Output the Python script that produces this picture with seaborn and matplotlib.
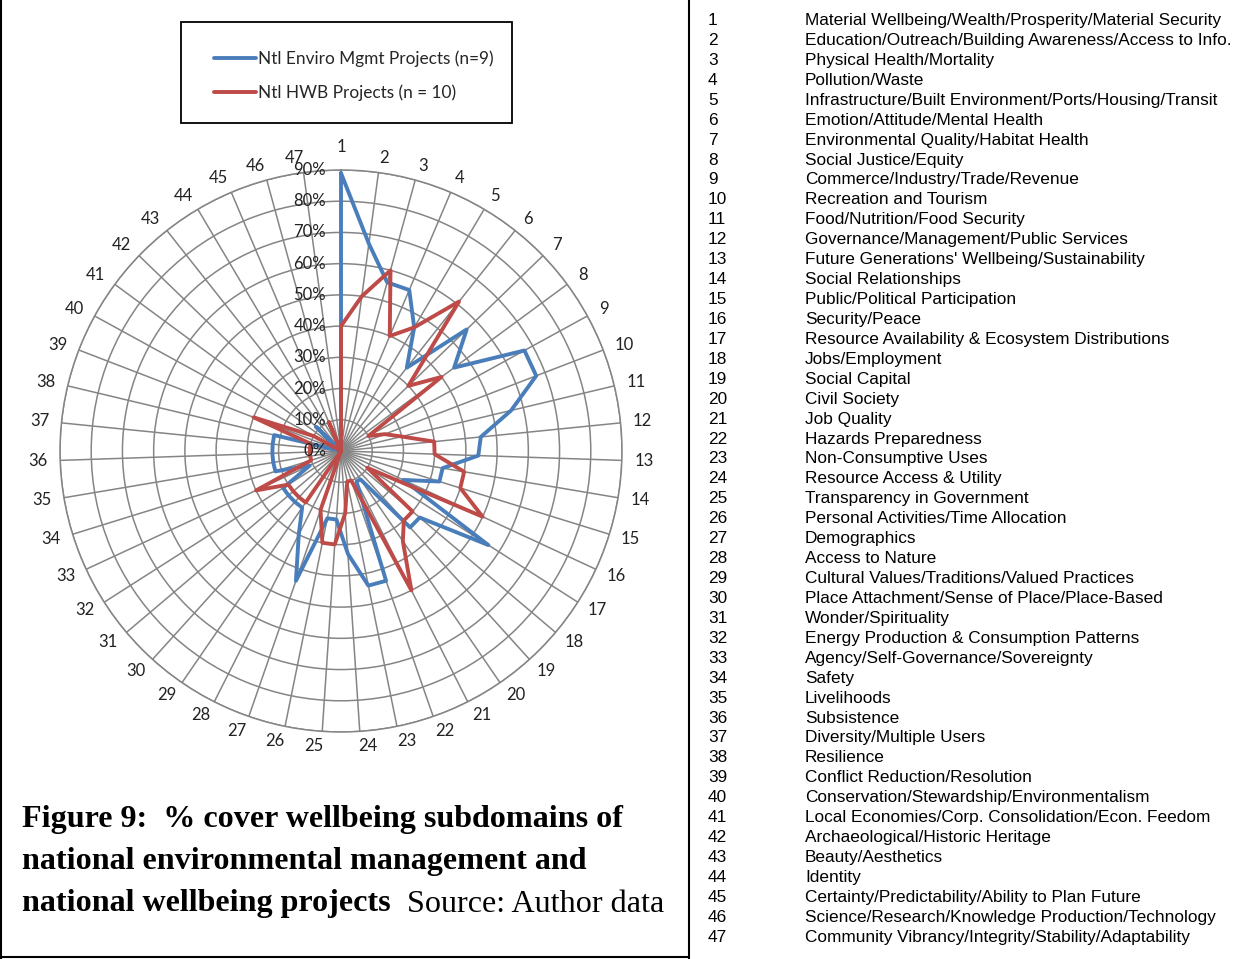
import numpy as np
import pandas as pd
import matplotlib
matplotlib.use("Agg")
import matplotlib.pyplot as plt
import matplotlib.transforms as mtransforms
from matplotlib.patches import Rectangle
from matplotlib.lines import Line2D
import seaborn as sns

# ---- data -------------------------------------------------------------
subdomains = [
    "Material Wellbeing/Wealth/Prosperity/Material Security",
    "Education/Outreach/Building Awareness/Access to Info.",
    "Physical Health/Mortality",
    "Pollution/Waste",
    "Infrastructure/Built Environment/Ports/Housing/Transit",
    "Emotion/Attitude/Mental Health",
    "Environmental Quality/Habitat Health",
    "Social Justice/Equity",
    "Commerce/Industry/Trade/Revenue",
    "Recreation and Tourism",
    "Food/Nutrition/Food Security",
    "Governance/Management/Public Services",
    "Future Generations' Wellbeing/Sustainability",
    "Social Relationships",
    "Public/Political Participation",
    "Security/Peace",
    "Resource Availability & Ecosystem Distributions",
    "Jobs/Employment",
    "Social Capital",
    "Civil Society",
    "Job Quality",
    "Hazards Preparedness",
    "Non-Consumptive Uses",
    "Resource Access & Utility",
    "Transparency in Government",
    "Personal Activities/Time Allocation",
    "Demographics",
    "Access to Nature",
    "Cultural Values/Traditions/Valued Practices",
    "Place Attachment/Sense of Place/Place-Based",
    "Wonder/Spirituality",
    "Energy Production & Consumption Patterns",
    "Agency/Self-Governance/Sovereignty",
    "Safety",
    "Livelihoods",
    "Subsistence",
    "Diversity/Multiple Users",
    "Resilience",
    "Conflict Reduction/Resolution",
    "Conservation/Stewardship/Environmentalism",
    "Local Economies/Corp. Consolidation/Econ. Feedom",
    "Archaeological/Historic Heritage",
    "Beauty/Aesthetics",
    "Identity",
    "Certainty/Predictability/Ability to Plan Future",
    "Science/Research/Knowledge Production/Technology",
    "Community Vibrancy/Integrity/Stability/Adaptability",
]

# % of projects covering each subdomain (1..47)
enviro_mgmt = [89, 67, 56, 56, 46, 34, 56, 45, 67, 67,
               56, 45, 44, 33, 33, 22, 56, 33, 33, 11,
               11, 44, 44, 33, 22, 22, 44, 30, 22, 22,
               22, 22, 11, 22, 22, 22, 22, 22, 0, 0,
               0, 11, 0, 0, 0, 0, 0]
hwb = [40, 50, 60, 40, 46, 61, 30, 40, 10, 15,
       20, 30, 30, 40, 40, 50, 10, 30, 30, 35,
       50, 10, 10, 20, 30, 30, 20, 0, 20, 20,
       20, 20, 30, 10, 10, 10, 10, 10, 30, 10,
       0, 0, 0, 0, 10, 0, 0]

series_names = ["Ntl Enviro Mgmt Projects (n=9)", "Ntl HWB Projects (n = 10)"]
series_colors = ["#4A7EBB", "#BE4B48"]
radial_ticks = [0, 10, 20, 30, 40, 50, 60, 70, 80, 90]

caption_bold = ["Figure 9:  % cover wellbeing subdomains of",
                "national environmental management and",
                "national wellbeing projects"]
caption_source = "Source: Author data"

# ---- style ------------------------------------------------------------
sns.set_theme(style="white")
plt.rcParams['font.family'] = ['Lato', 'DejaVu Sans']

W, H = 1260, 959
fig = plt.figure(figsize=(W / 100, H / 100), dpi=100)
fig.patch.set_facecolor("white")


def fx(x):
    return x / W


def fy(y):
    return 1 - y / H


# ---- radar chart --------------------------------------------------------
cx, cy, R = 341, 451, 281
ax = fig.add_axes([fx(cx - R), fy(cy + R), 2 * R / W, 2 * R / H], projection="polar")
ax.set_facecolor("white")

n = len(subdomains)
theta = np.arange(n) * 2 * np.pi / n

rows = []
for name, vals in zip(series_names, [enviro_mgmt, hwb]):
    ts = list(theta) + [2 * np.pi]
    vs = list(vals) + [vals[0]]
    for t, v in zip(ts, vs):
        rows.append({"series": name, "theta": t, "value": v})
df = pd.DataFrame(rows)

sns.lineplot(data=df, x="theta", y="value", hue="series", hue_order=series_names,
             palette=series_colors, sort=False, estimator=None, linewidth=2.8,
             ax=ax, legend=False, zorder=3)

ax.set_theta_zero_location("N")
ax.set_theta_direction(-1)
ax.set_ylim(0, 90)
ax.set_xticks(theta)
ax.set_xticklabels([])
ax.set_yticks(radial_ticks[1:])
ax.set_yticklabels([])
ax.set_xlabel("")
ax.set_ylabel("")
ax.grid(True, color="#858585", linewidth=1.1)
ax.spines["polar"].set_color("#858585")
ax.spines["polar"].set_linewidth(1.1)
ax.set_axisbelow(True)

# spoke numbers around the rim: anchored on a ring, nudged sideways away
# from the vertical axis by part of the label width
lab_r = 296
for i, t in enumerate(theta):
    label = str(i + 1)
    s = np.sin(t)
    lx = cx + lab_r * s
    ly = cy - lab_r * np.cos(t)
    va = "center"
    if abs(s) > 1e-6:
        lx += np.sign(s) * 3.5 * len(label)
    else:
        va = "bottom"
    fig.text(fx(lx), fy(ly), label, ha="center", va=va, fontsize=12,
             color="#222222")

# percent labels along the first spoke
pct_tr = mtransforms.offset_copy(ax.transData, fig=fig, x=-15, y=0, units="dots")
for v in radial_ticks:
    ax.text(0, v, f"{v}%", transform=pct_tr, ha="right", va="center",
            fontsize=12, color="#222222", clip_on=False)

# ---- legend -------------------------------------------------------------
fig.add_artist(Rectangle((fx(181), fy(123)), 331 / W, 101 / H, transform=fig.transFigure,
                         fill=False, edgecolor="black", linewidth=1.3))
handles = [Line2D([], [], color=c, linewidth=2.8) for c in series_colors]
fig.legend(handles, series_names, loc="center", bbox_to_anchor=(fx(354), fy(75.5)),
           frameon=False, fontsize=12.4, handlelength=2.45, handletextpad=0.1,
           labelspacing=1.0)

# ---- caption ------------------------------------------------------------
cap_y = [820, 862, 904]
cap_font = dict(family=["Liberation Serif", "DejaVu Serif"], fontsize=23.1, color="black")
last = None
for txt, y in zip(caption_bold, cap_y):
    last = fig.text(fx(22), fy(y), txt, fontweight="bold", va="center", **cap_font)
fig.canvas.draw()
bb = last.get_window_extent(renderer=fig.canvas.get_renderer())
fig.text((bb.x1 + 16) / W, fy(cap_y[-1]), caption_source, fontweight="normal",
         va="center", **cap_font)

# ---- subdomain key ------------------------------------------------------
key_font = dict(family=["Liberation Sans", "DejaVu Sans"], fontsize=12.4, color="black")
for i, name in enumerate(subdomains):
    y = 20.5 + i * 19.93
    fig.text(fx(708), fy(y), str(i + 1), va="center", **key_font)
    fig.text(fx(805), fy(y), name, va="center", **key_font)

# ---- panel frame --------------------------------------------------------
for xs, ys in [([1, 1], [0, 959]), ([689, 689], [0, 959]), ([0, 689], [957, 957])]:
    fig.add_artist(Line2D([fx(x) for x in xs], [fy(y) for y in ys],
                          transform=fig.transFigure, color="black", linewidth=1.5))

fig.savefig("out.png", dpi=100, facecolor="white")
